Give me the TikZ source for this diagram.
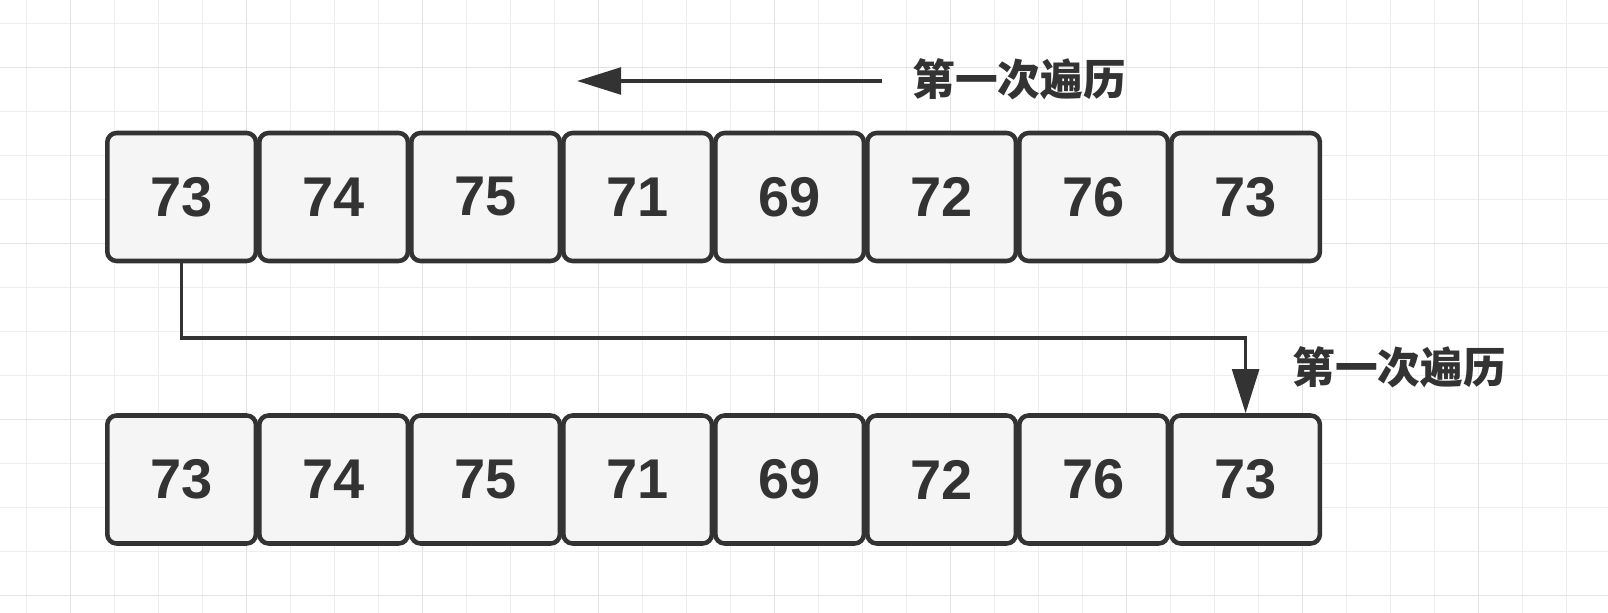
\documentclass[tikz,border=0pt]{standalone}
\usepackage{fontspec}
\setmainfont{Liberation Sans}
\newfontfamily\cjk{Noto Sans CJK SC}
\usetikzlibrary{arrows.meta,positioning,calc}
\definecolor{ink}{HTML}{333333}
\definecolor{cellfill}{HTML}{F5F5F5}
\definecolor{gridminor}{HTML}{EEEEEE}
\definecolor{gridmajor}{HTML}{E3E3E3}
\tikzstyle{cell}=[rectangle,rounded corners=7pt,draw=ink,fill=cellfill,line width=3.4pt,minimum width=111.5pt,minimum height=96pt,inner sep=0pt,text=ink,font=\fontsize{42}{50}\selectfont\bfseries]
\tikzstyle{caption}=[inner sep=0pt,text=ink,font=\cjk\bfseries\fontsize{32}{38}\selectfont]
\tikzstyle{link}=[draw=ink,line width=2.6pt,-{Triangle[length=33pt,width=20pt]}]

\begin{document}
\begin{tikzpicture}[x=0.75pt,y=-0.75pt]
      \useasboundingbox (0,0) rectangle (1608,613);
      \fill[white] (0,0) rectangle (1608,613);
      % background grid
      \foreach \gx in {26.7,70.7,...,1608} \draw[gridminor,line width=0.8pt] (\gx,0) -- (\gx,613);
      \foreach \gy in {23.3,67.3,...,613} \draw[gridminor,line width=0.8pt] (0,\gy) -- (1608,\gy);
      \foreach \gx in {70.7,246.7,...,1608} \draw[gridmajor,line width=0.8pt] (\gx,0) -- (\gx,613);
      \foreach \gy in {67.3,243.3,...,613} \draw[gridmajor,line width=0.8pt] (0,\gy) -- (1608,\gy);

      \node[cell] at (181.6, 197) (t1) {73};
			\node[cell] at (333.6, 197) (t2) {74};
			\node[cell] at (485.6, 197) (t3) {75};
			\node[cell] at (637.6, 197) (t4) {71};
			\node[cell] at (789.6, 197) (t5) {69};
			\node[cell] at (941.6, 197) (t6) {72};
			\node[cell] at (1093.6, 197) (t7) {76};
			\node[cell] at (1245.6, 197) (t8) {73};

      \node[cell] at (181.6, 479.5) (b1) {73};
			\node[cell] at (333.6, 479.5) (b2) {74};
			\node[cell] at (485.6, 479.5) (b3) {75};
			\node[cell] at (637.6, 479.5) (b4) {71};
			\node[cell] at (789.6, 479.5) (b5) {69};
			\node[cell] at (941.6, 479.5) (b6) {72};
			\node[cell] at (1093.6, 479.5) (b7) {76};
			\node[cell] at (1245.6, 479.5) (b8) {73};

      \node[caption] at (1019, 79) (pass1) {第一次遍历};
			\node[caption] at (1399, 367) (pass2) {第一次遍历};

      \coordinate (from1) at (882, 81);
			\coordinate (to1) at (577, 81);
			\coordinate (turn) at (1245.6, 338);

      \draw[link] (from1) -- (to1);
			\draw[link] (t1.south) |- (turn) -- (b8.north);
  	\end{tikzpicture}
\end{document}
